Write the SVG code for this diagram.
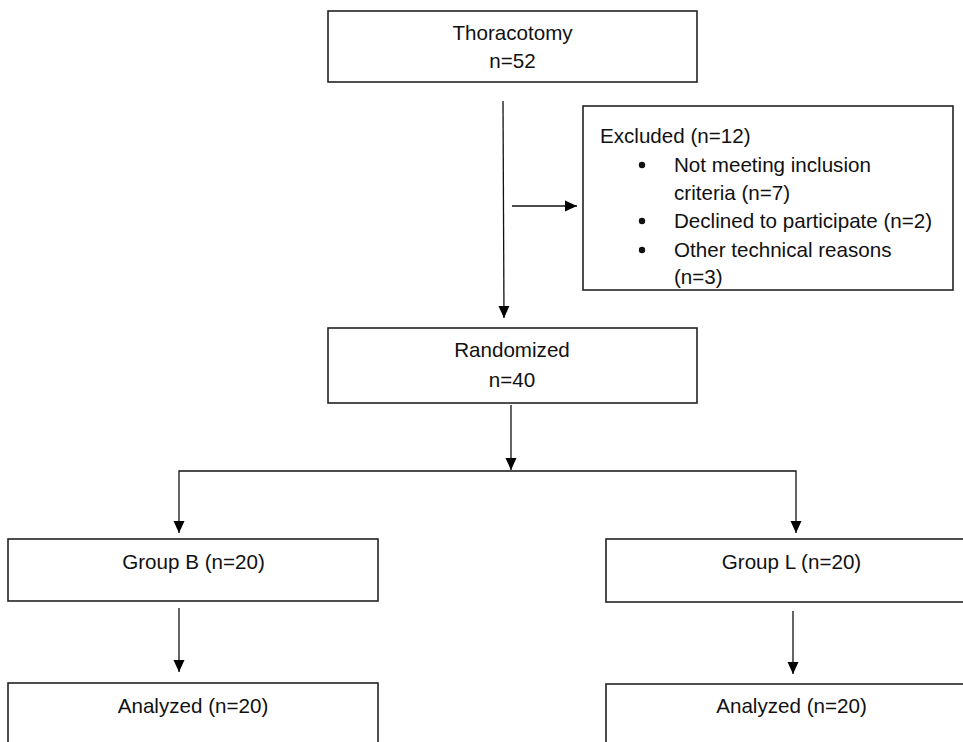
<svg xmlns="http://www.w3.org/2000/svg" width="963" height="742" viewBox="0 0 963 742">
<defs>
<marker id="ah" markerWidth="12" markerHeight="12" viewBox="0 0 12 12" refX="12" refY="6" orient="auto" markerUnits="userSpaceOnUse">
<path d="M0,0.5 L12,6 L0,11.5 Z" fill="#000"/>
</marker>
<style>
.box{fill:#fff;stroke:#222;stroke-width:1.6}
.t{font-family:"Liberation Sans",Arial,sans-serif;font-size:20.6px;fill:#111}
.c{text-anchor:middle}
.ln{fill:none;stroke:#111;stroke-width:1.3}
</style>
</defs>
<rect width="963" height="742" fill="#fff"/>
<g id="connectors">
<line class="ln" x1="503" y1="101" x2="504" y2="318" marker-end="url(#ah)"/>
<line class="ln" x1="512" y1="206" x2="577" y2="206" marker-end="url(#ah)"/>
<line class="ln" x1="511" y1="405" x2="511" y2="470" marker-end="url(#ah)"/>
<polyline class="ln" points="511,471 179,471 179,533" marker-end="url(#ah)"/>
<polyline class="ln" points="511,471 796,471 796,533" marker-end="url(#ah)"/>
<line class="ln" x1="179" y1="608" x2="179" y2="672" marker-end="url(#ah)"/>
<line class="ln" x1="793" y1="611" x2="793" y2="674" marker-end="url(#ah)"/>
</g>
<g id="thoracotomy">
<rect class="box" x="328" y="11" width="369" height="71"/>
<text class="t c" x="512.5" y="40">Thoracotomy</text>
<text class="t c" x="512.5" y="68">n=52</text>
</g>
<g id="excluded">
<rect class="box" x="583" y="106" width="370" height="184"/>
<text class="t" x="600" y="143">Excluded (n=12)</text>
<circle cx="642" cy="165" r="3.2" fill="#111"/>
<text class="t" x="674" y="172">Not meeting inclusion</text>
<text class="t" x="674" y="200">criteria (n=7)</text>
<circle cx="642" cy="221" r="3.2" fill="#111"/>
<text class="t" x="674" y="228">Declined to participate (n=2)</text>
<circle cx="642" cy="250" r="3.2" fill="#111"/>
<text class="t" x="674" y="257">Other technical reasons</text>
<text class="t" x="674" y="284">(n=3)</text>
</g>
<g id="randomized">
<rect class="box" x="328" y="328" width="369" height="75"/>
<text class="t c" x="512" y="357">Randomized</text>
<text class="t c" x="512" y="387">n=40</text>
</g>
<g id="groupB">
<rect class="box" x="8" y="539" width="370" height="62"/>
<text class="t c" x="193.5" y="569">Group B (n=20)</text>
</g>
<g id="groupL">
<rect class="box" x="606" y="539" width="370" height="63"/>
<text class="t c" x="791.5" y="569">Group L (n=20)</text>
</g>
<g id="analyzedB">
<rect class="box" x="8" y="683" width="370" height="70"/>
<text class="t c" x="193" y="713">Analyzed (n=20)</text>
</g>
<g id="analyzedL">
<rect class="box" x="606" y="684" width="370" height="70"/>
<text class="t c" x="791.5" y="713">Analyzed (n=20)</text>
</g>
</svg>
